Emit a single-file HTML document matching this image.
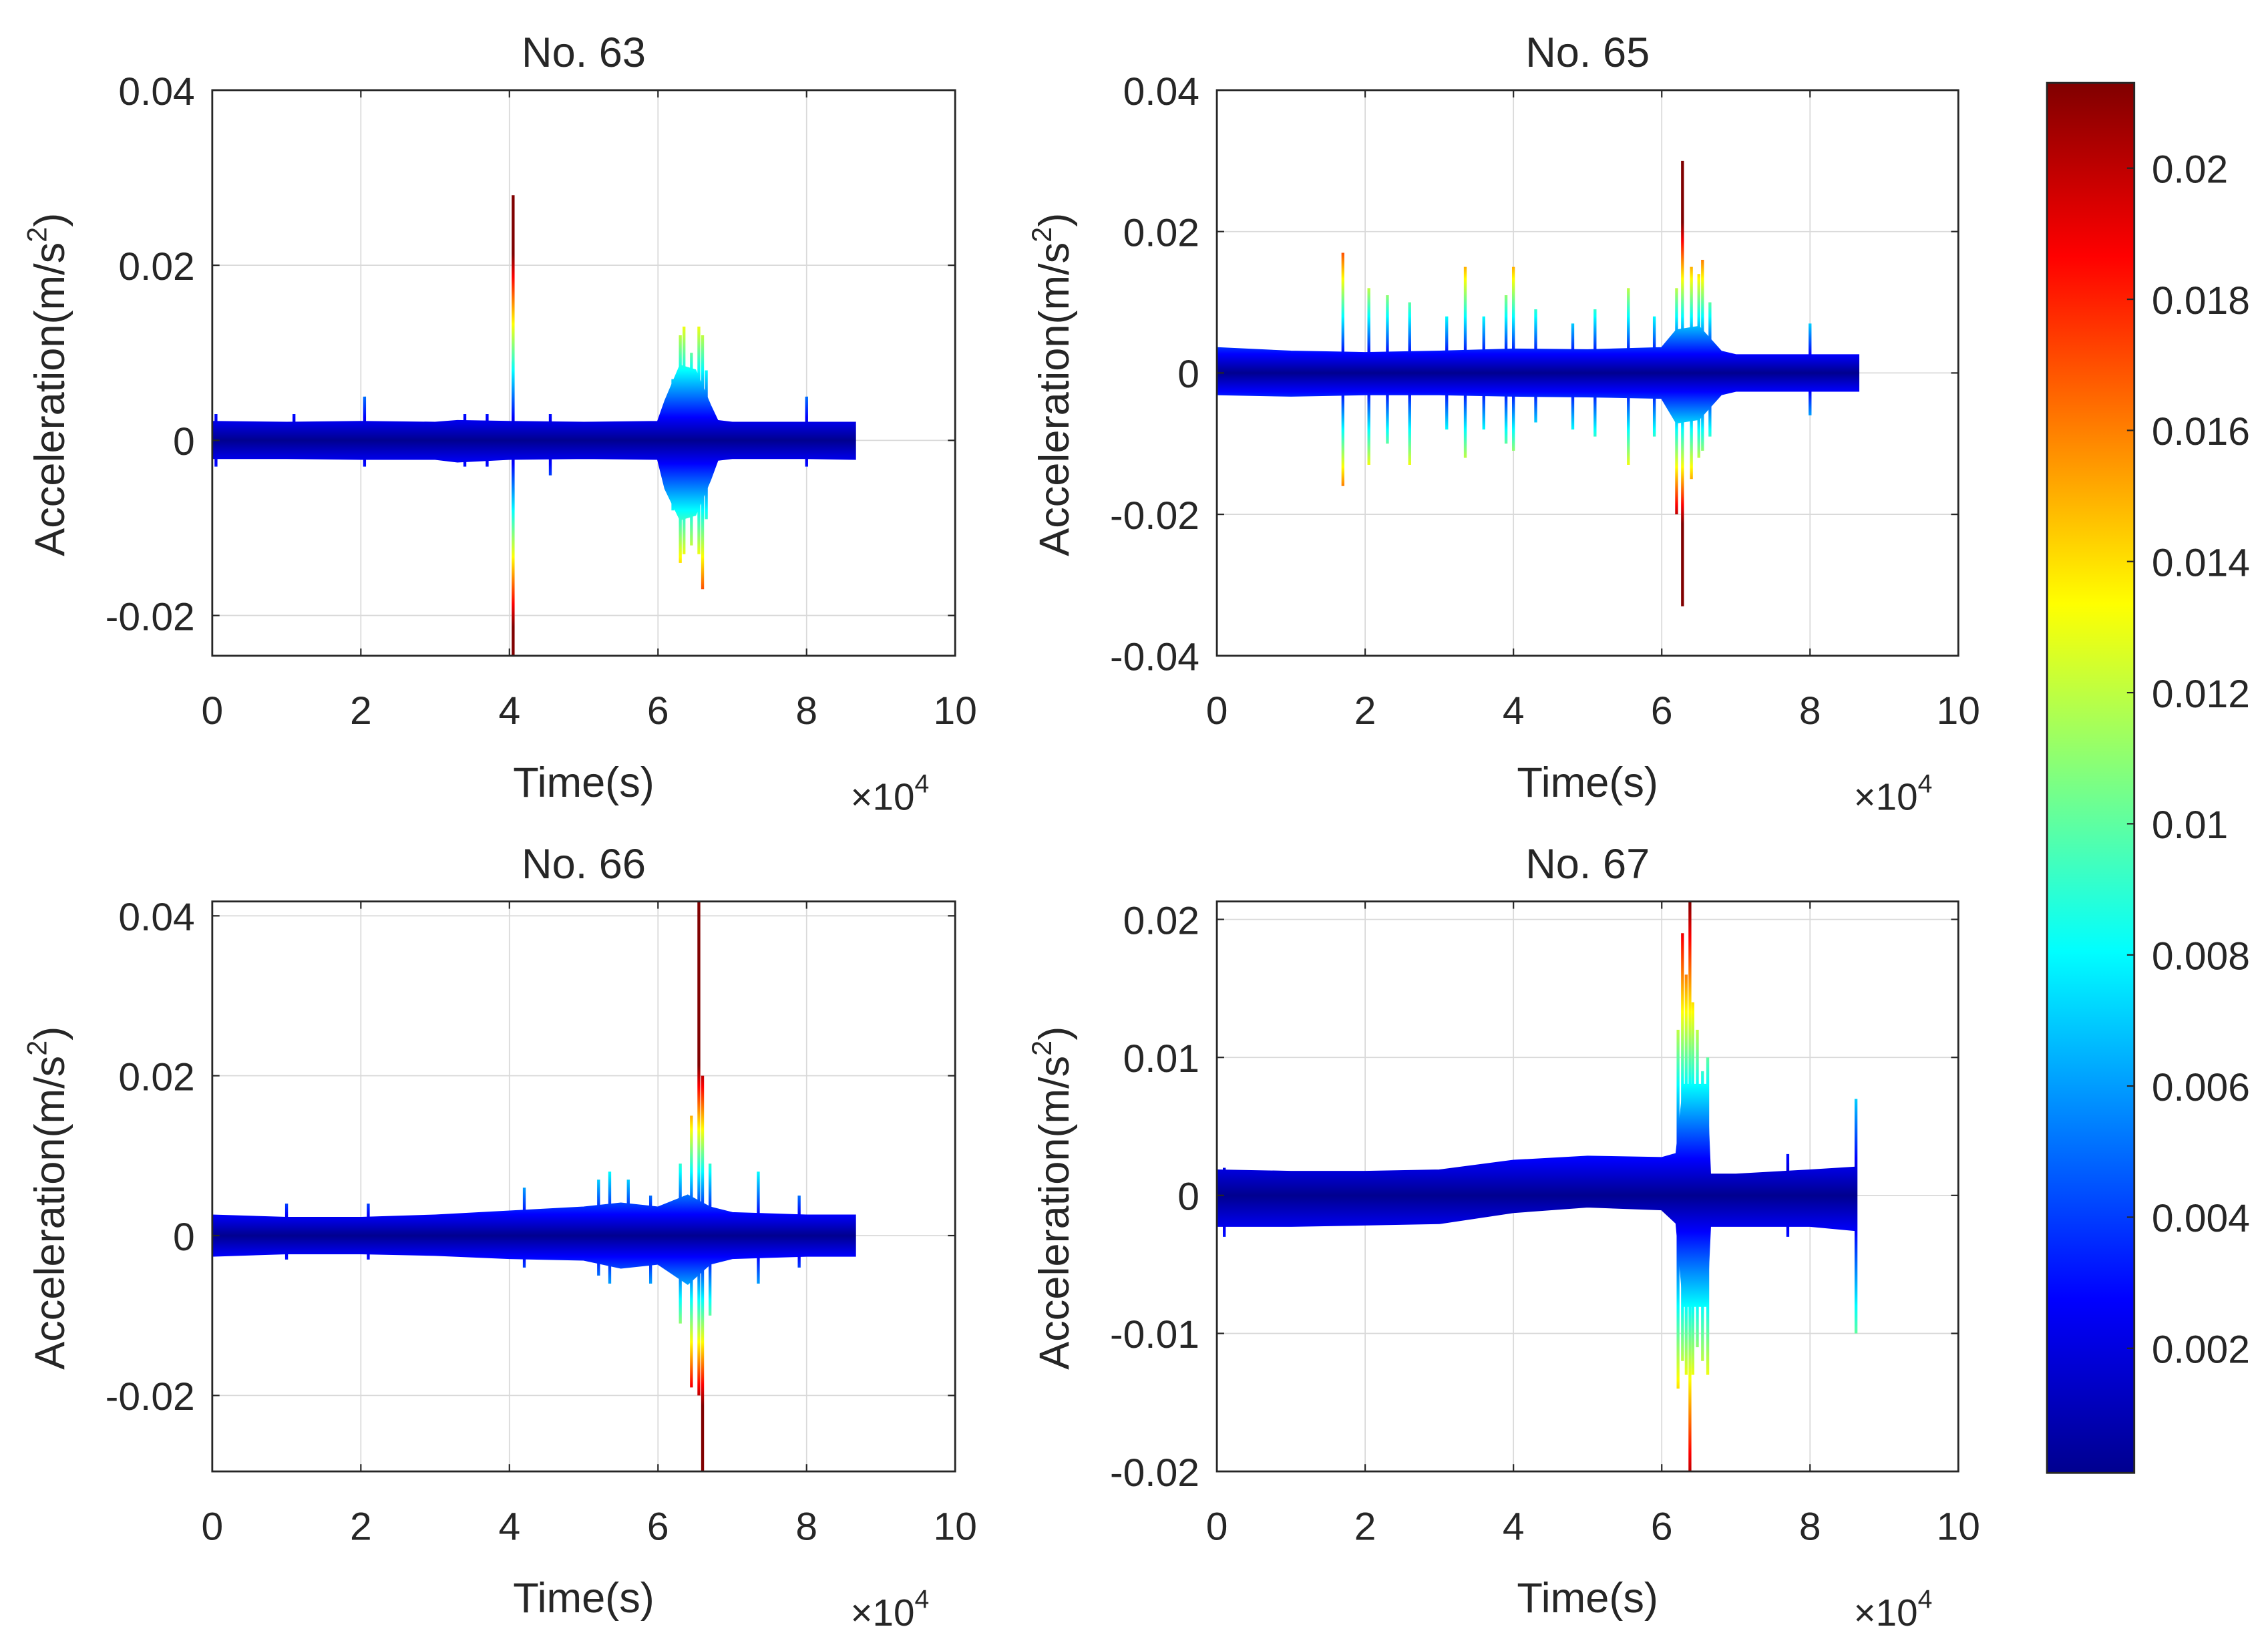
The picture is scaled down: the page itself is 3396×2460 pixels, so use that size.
<!DOCTYPE html>
<html><head><meta charset="utf-8">
<style>
html,body{margin:0;padding:0;background:#fff;}
svg{display:block;}
text{font-family:"Liberation Sans",sans-serif;fill:#262626;}
</style></head>
<body>
<svg id="fig" xmlns="http://www.w3.org/2000/svg" width="3396" height="2460" viewBox="0 0 1560 1130">
<defs id="defs"></defs>
</svg>
<script>
// ---- Data (time in units of 1e4 s, acceleration in m/s^2) ----
// No. 63
const p63T  = [0, 1, 2, 3, 3.3, 4, 5, 6, 6.1, 6.3, 6.5, 6.7, 6.8, 7, 8, 8.65];
const p63Up = [0.0021, 0.0020, 0.0021, 0.0020, 0.0022, 0.0021, 0.0020, 0.0021, 0.0045, 0.0085, 0.0080, 0.0040, 0.0022, 0.0020, 0.0020, 0.0020];
const p63Lo = [-0.0020, -0.0020, -0.0021, -0.0021, -0.0024, -0.0021, -0.0020, -0.0021, -0.0055, -0.0090, -0.0085, -0.0045, -0.0022, -0.0020, -0.0020, -0.0021];
const p63SpT  = [0.05, 1.1, 2.05, 3.4, 3.7, 4.05, 4.05, 4.55, 6.2, 6.3, 6.35, 6.45, 6.55, 6.6, 6.65, 8.0];
const p63SpHi = [0.003, 0.003, 0.005, 0.003, 0.003, 0.028, 0.009, 0.003, 0.007, 0.012, 0.013, 0.010, 0.013, 0.012, 0.008, 0.005];
const p63SpLo = [-0.003, -0.002, -0.003, -0.003, -0.003, -0.0246, -0.008, -0.004, -0.008, -0.014, -0.013, -0.012, -0.013, -0.017, -0.009, -0.003];
// No. 65
const p65T  = [0, 1, 2, 3, 4, 5, 6, 6.2, 6.5, 6.8, 7, 8, 8.65];
const p65Up = [0.0035, 0.0030, 0.0028, 0.0030, 0.0033, 0.0032, 0.0035, 0.0060, 0.0065, 0.0030, 0.0025, 0.0025, 0.0025];
const p65Lo = [-0.0030, -0.0032, -0.0030, -0.0030, -0.0032, -0.0033, -0.0035, -0.0070, -0.0065, -0.0030, -0.0025, -0.0025, -0.0025];
const p65SpT  = [1.7, 2.05, 2.3, 2.6, 3.1, 3.35, 3.6, 3.9, 4.0, 4.3, 4.8, 5.1, 5.55, 5.9, 6.2, 6.28, 6.4, 6.5, 6.55, 6.65, 8.0];
const p65SpHi = [0.017, 0.012, 0.011, 0.010, 0.008, 0.015, 0.008, 0.011, 0.015, 0.009, 0.007, 0.009, 0.012, 0.008, 0.012, 0.030, 0.015, 0.014, 0.016, 0.010, 0.007];
const p65SpLo = [-0.016, -0.013, -0.010, -0.013, -0.008, -0.012, -0.008, -0.010, -0.011, -0.007, -0.008, -0.009, -0.013, -0.009, -0.020, -0.033, -0.015, -0.012, -0.011, -0.009, -0.006];
// No. 66
const p66T  = [0, 1, 2, 3, 4, 5, 5.5, 6, 6.4, 6.7, 7, 8, 8.65];
const p66Up = [0.0025, 0.0022, 0.0022, 0.0025, 0.0030, 0.0035, 0.0040, 0.0035, 0.0050, 0.0035, 0.0028, 0.0025, 0.0025];
const p66Lo = [-0.0025, -0.0022, -0.0022, -0.0024, -0.0028, -0.0030, -0.0040, -0.0035, -0.0060, -0.0035, -0.0028, -0.0025, -0.0025];
const p66SpT  = [1.0, 2.1, 4.2, 5.2, 5.35, 5.6, 5.9, 6.3, 6.45, 6.55, 6.6, 6.7, 7.35, 7.9];
const p66SpHi = [0.004, 0.004, 0.006, 0.007, 0.008, 0.007, 0.005, 0.009, 0.015, 0.042, 0.020, 0.009, 0.008, 0.005];
const p66SpLo = [-0.003, -0.003, -0.004, -0.005, -0.006, -0.004, -0.006, -0.011, -0.019, -0.020, -0.0295, -0.010, -0.006, -0.004];
// No. 67
const p67T  = [0, 1, 2, 3, 4, 5, 6, 6.2, 6.3, 6.6, 6.65, 7, 8, 8.6];
const p67Up = [0.0018, 0.0017, 0.0017, 0.0018, 0.0025, 0.0028, 0.0027, 0.0030, 0.0080, 0.0080, 0.0015, 0.0015, 0.0018, 0.0020];
const p67Lo = [-0.0022, -0.0022, -0.0021, -0.0020, -0.0012, -0.0008, -0.0010, -0.0020, -0.0080, -0.0080, -0.0022, -0.0022, -0.0022, -0.0025];
const p67SpT  = [0.1, 6.22, 6.28, 6.33, 6.38, 6.42, 6.48, 6.55, 6.62, 7.7, 8.62];
const p67SpHi = [0.002, 0.012, 0.019, 0.016, 0.0213, 0.014, 0.012, 0.009, 0.010, 0.003, 0.007];
const p67SpLo = [-0.003, -0.014, -0.012, -0.013, -0.020, -0.013, -0.011, -0.012, -0.013, -0.003, -0.010];
// colorbar
const cbTicks = [0.002, 0.004, 0.006, 0.008, 0.01, 0.012, 0.014, 0.016, 0.018, 0.02];
const cbLabels = ["0.002","0.004","0.006","0.008","0.01","0.012","0.014","0.016","0.018","0.02"];
const xTicks = [0, 2, 4, 6, 8, 10];
const xLabels = ["0","2","4","6","8","10"];

const cMin = 0.0001, cMax = 0.0213;
const jet = [[0,"#00008F"],[0.125,"#0000FF"],[0.375,"#00FFFF"],[0.625,"#FFFF00"],[0.875,"#FF0000"],[1,"#800000"]];

const panels = [
  {id:"no-63", title:"No. 63", x0:146, x1:657, yT:62, yB:451, ymin:-0.0246, ymax:0.04,
   yt:[-0.02,0,0.02,0.04], yl:["-0.02","0","0.02","0.04"], T:p63T, U:p63Up, L:p63Lo, sT:p63SpT, sH:p63SpHi, sL:p63SpLo},
  {id:"no-65", title:"No. 65", x0:837, x1:1347, yT:62, yB:451, ymin:-0.04, ymax:0.04,
   yt:[-0.04,-0.02,0,0.02,0.04], yl:["-0.04","-0.02","0","0.02","0.04"], T:p65T, U:p65Up, L:p65Lo, sT:p65SpT, sH:p65SpHi, sL:p65SpLo},
  {id:"no-66", title:"No. 66", x0:146, x1:657, yT:620, yB:1012, ymin:-0.0295, ymax:0.0418,
   yt:[-0.02,0,0.02,0.04], yl:["-0.02","0","0.02","0.04"], T:p66T, U:p66Up, L:p66Lo, sT:p66SpT, sH:p66SpHi, sL:p66SpLo},
  {id:"no-67", title:"No. 67", x0:837, x1:1347, yT:620, yB:1012, ymin:-0.02, ymax:0.0213,
   yt:[-0.02,-0.01,0,0.01,0.02], yl:["-0.02","-0.01","0","0.01","0.02"], T:p67T, U:p67Up, L:p67Lo, sT:p67SpT, sH:p67SpHi, sL:p67SpLo}
];

const NS="http://www.w3.org/2000/svg";
const svg=document.getElementById('fig');
const defs=document.getElementById('defs');
function mk(tag, attrs, parent){const e=document.createElementNS(NS,tag);for(const k in attrs)e.setAttribute(k,attrs[k]);(parent||svg).appendChild(e);return e;}

panels.forEach(p=>{
  const xs=t=>p.x0+(t/10)*(p.x1-p.x0);
  const ys=v=>p.yB-(v-p.ymin)/(p.ymax-p.ymin)*(p.yB-p.yT);
  const g=mk('g',{});
  
  
  const gr=mk('linearGradient',{id:'grad-'+p.id,gradientUnits:'userSpaceOnUse',x1:0,x2:0,y1:ys(cMax),y2:ys(-cMax)},defs);
  const stops=[];
  jet.forEach(([s,c])=>{stops.push([(1-s)/2,c]);stops.push([(1+s)/2,c]);});
  stops.sort((a,b)=>a[0]-b[0]).forEach(([o,c])=>mk('stop',{offset:o,'stop-color':c},gr));
  const clip=mk('clipPath',{id:'clip-'+p.id},defs);
  mk('rect',{x:p.x0,y:p.yT,width:p.x1-p.x0,height:p.yB-p.yT},clip);
  const grid=mk('g',{stroke:'#d9d9d9','stroke-width':0.8},g);
  
  
  xTicks.forEach(t=>{mk('line',{x1:xs(t),x2:xs(t),y1:p.yT,y2:p.yB},grid);});
  p.yt.forEach(v=>{mk('line',{x1:p.x0,x2:p.x1,y1:ys(v),y2:ys(v)},grid);});
  const dg=mk('g',{'clip-path':'url(#clip-'+p.id+')'},g);
  
  
  let pts=p.T.map((t,i)=>xs(t)+','+ys(p.U[i]));
  for(let i=p.T.length-1;i>=0;i--)pts.push(xs(p.T[i])+','+ys(p.L[i]));
  const band=mk('polygon',{points:pts.join(' '),fill:'url(#grad-'+p.id+')',stroke:'url(#grad-'+p.id+')','stroke-width':1.5},dg);
  
  
  p.sT.forEach((t,i)=>{
    const l=mk('line',{x1:xs(t),x2:xs(t)+0.01,y1:ys(p.sH[i]),y2:ys(p.sL[i]),stroke:'url(#grad-'+p.id+')','stroke-width':2},dg);
    
    
  });
  const box=mk('rect',{x:p.x0,y:p.yT,width:p.x1-p.x0,height:p.yB-p.yT,fill:'none',stroke:'#262626','stroke-width':1.3},g);
  
  
  xTicks.forEach((t,i)=>{
    mk('line',{x1:xs(t),x2:xs(t),y1:p.yB,y2:p.yB-5,stroke:'#262626','stroke-width':1},g);
    mk('line',{x1:xs(t),x2:xs(t),y1:p.yT,y2:p.yT+5,stroke:'#262626','stroke-width':1},g);
    const tx=mk('text',{x:xs(t),y:p.yB+47,'text-anchor':'middle','font-size':27},g);
    tx.textContent=xLabels[i];
    
    
  });
  p.yt.forEach((v,i)=>{
    mk('line',{x1:p.x0,x2:p.x0+5,y1:ys(v),y2:ys(v),stroke:'#262626','stroke-width':1},g);
    mk('line',{x1:p.x1,x2:p.x1-5,y1:ys(v),y2:ys(v),stroke:'#262626','stroke-width':1},g);
    const ty=mk('text',{x:p.x0-12,y:ys(v)+10,'text-anchor':'end','font-size':27},g);
    ty.textContent=p.yl[i];
    
    
  });
  const ti=mk('text',{x:(p.x0+p.x1)/2,y:p.yT-16,'text-anchor':'middle','font-size':29},g);
  ti.textContent=p.title;
  
  
  const xl=mk('text',{x:(p.x0+p.x1)/2,y:p.yB+97,'text-anchor':'middle','font-size':29},g);
  xl.textContent='Time(s)';
  
  
  const ex=mk('text',{x:p.x1-72,y:p.yB+106,'font-size':26},g);
  ex.innerHTML='×10<tspan dy="-12" font-size="18">4</tspan>';
  
  
  const cy=(p.yT+p.yB)/2+8, cx=p.x0-102;
  const yl=mk('text',{x:cx,y:cy,'text-anchor':'middle','font-size':29,transform:'rotate(-90 '+cx+' '+cy+')'},g);
  yl.innerHTML='Acceleration(m/s<tspan dy="-12" font-size="19">2</tspan><tspan dy="12">)</tspan>';
  
  
});

const cbX=1408, cbW=60, cbT=57, cbB=1013;
const cys=v=>cbB-(v-cMin)/(cMax-cMin)*(cbB-cbT);
const cg=mk('g',{});


const cgr=mk('linearGradient',{id:'cbgrad',x1:0,x2:0,y1:1,y2:0},defs);
jet.forEach(([s,c])=>mk('stop',{offset:s,'stop-color':c},cgr));
mk('rect',{x:cbX,y:cbT,width:cbW,height:cbB-cbT,fill:'url(#cbgrad)',stroke:'#262626','stroke-width':1.3},cg);
cbTicks.forEach((v,i)=>{
  mk('line',{x1:cbX+cbW,x2:cbX+cbW-5,y1:cys(v),y2:cys(v),stroke:'#262626','stroke-width':1},cg);
  const t=mk('text',{x:cbX+cbW+12,y:cys(v)+10,'font-size':27},cg);
  t.textContent=cbLabels[i];
  
  
});
</script>
</body></html>
